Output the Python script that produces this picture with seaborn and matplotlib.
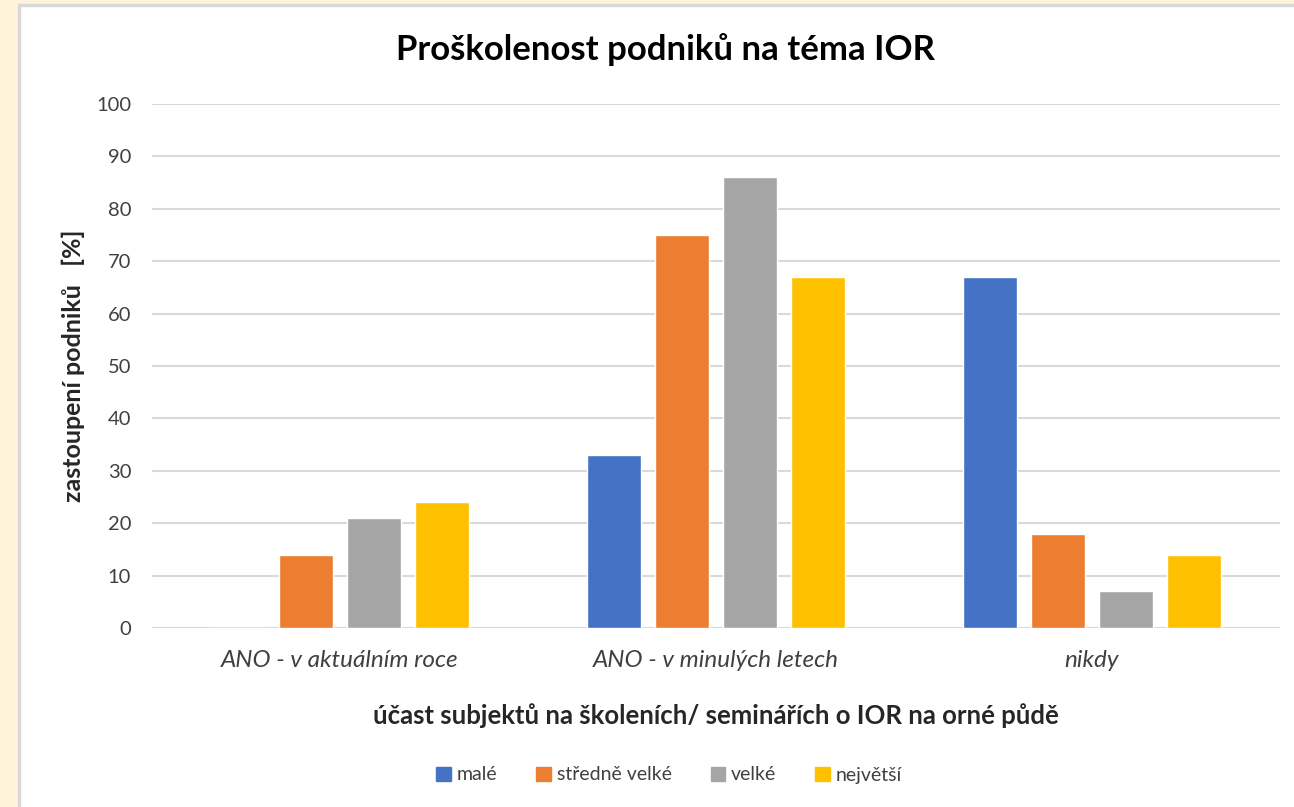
import seaborn as sns
import matplotlib.pyplot as plt
import matplotlib.patches as mpatches
import pandas as pd

# data
kategorie = ["ANO - v aktuálním roce", "ANO - v minulých letech", "nikdy"]
velikosti = ["malé", "středně velké", "velké", "největší"]
male = [0, 33, 67]
stredne_velke = [14, 75, 18]
velke = [21, 86, 7]
nejvetsi = [24, 67, 14]
barvy = ["#4472C4", "#ED7D31", "#A5A5A5", "#FFC000"]

df = pd.DataFrame({
    "kategorie": kategorie * 4,
    "velikost": [v for v in velikosti for _ in kategorie],
    "hodnota": male + stredne_velke + velke + nejvetsi,
})

sns.set_style("white")
plt.rcParams["font.family"] = ["Lato", "DejaVu Sans"]

fig = plt.figure(figsize=(12.94, 8.07), dpi=100)
fig.patch.set_facecolor("#FFF3DA")
# white chart area with gray border
ramecek = mpatches.Rectangle((19 / 1294, -0.01), 1.1, 1 - 5 / 807 + 0.01,
                             transform=fig.transFigure, facecolor="white",
                             edgecolor="#D9D9D9", linewidth=2.5, zorder=-10)
fig.add_artist(ramecek)

ax = fig.add_axes([152 / 1294, 1 - 628 / 807, 1128 / 1294, 524 / 807])
ax.set_zorder(1)
ax.set_facecolor("white")
sns.barplot(data=df, x="kategorie", y="hodnota", hue="velikost", palette=barvy,
            width=0.723, gap=0.2, ax=ax, legend=False, saturation=1, zorder=3)

ax.set_ylim(0, 100)
ax.set_yticks(range(0, 101, 10))
ax.grid(axis="y", color="#D9D9D9", linewidth=1.5, zorder=0)
ax.set_axisbelow(True)
for s in ax.spines.values():
    s.set_visible(False)
ax.tick_params(axis="both", length=0, colors="#404040")
ax.tick_params(axis="y", pad=15, labelsize=14.5)
ax.tick_params(axis="x", pad=16, labelsize=17.5)
for lbl in ax.get_xticklabels():
    lbl.set_fontstyle("italic")

ax.set_xlabel("účast subjektů na školeních/ seminářích o IOR na orné půdě",
              fontsize=18.5, fontweight="bold", labelpad=23)
ax.set_ylabel("zastoupení podniků   [%]", fontsize=18, fontweight="bold", labelpad=8)

fig.text(665 / 1294, 1 - 50 / 807, "Proškolenost podniků na téma IOR",
         ha="center", va="center", fontsize=25, fontweight="bold", color="black")

handles = [mpatches.Patch(color=c, label=v) for c, v in zip(barvy, velikosti)]
fig.legend(handles=handles, loc="center", bbox_to_anchor=(669 / 1294, 1 - 775 / 807),
           ncol=4, frameon=False, fontsize=14, handlelength=0.75, handleheight=0.75,
           handletextpad=0.3, columnspacing=2.0, labelcolor="#404040")

fig.savefig("out.png", dpi=100, facecolor=fig.get_facecolor())
